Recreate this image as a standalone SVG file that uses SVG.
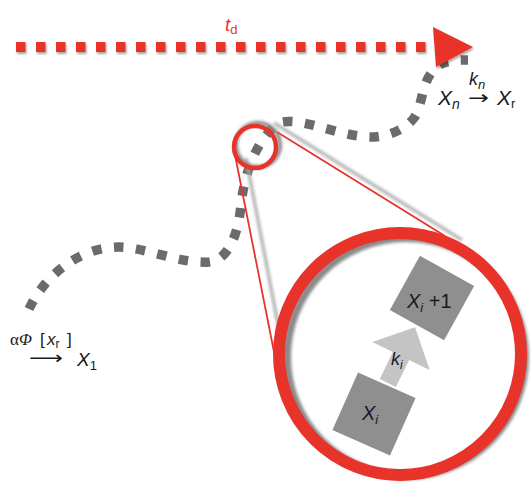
<svg xmlns="http://www.w3.org/2000/svg" width="531" height="483" viewBox="0 0 531 483">
<defs>
<filter id="sh" x="-10%" y="-50%" width="120%" height="200%">
<feDropShadow dx="1" dy="2" stdDeviation="1.3" flood-color="#000" flood-opacity="0.35"/>
</filter>
<filter id="blur" x="-20%" y="-20%" width="140%" height="140%">
<feGaussianBlur stdDeviation="1.8"/>
</filter>
</defs>
<style>
.lbl{font-family:"Liberation Sans",Arial,sans-serif;fill:#1a1a1a}
.it{font-style:italic}
.box{fill:#8f8f8f}
</style>
<rect width="531" height="483" fill="#fff"/>

<g id="connectors">
<path id="trajectory" d="M29,309 C45,275 80,247 119,247 C145,247 180,264 209,262 C230,260 239,230 241,204 C244,180 252,145 278,123 C300,116 335,135 368,137 C385,138 405,130 414,118 C424,104 420,80 438,66 C446,60 458,60 468,60" fill="none" stroke="#6b6b6b" stroke-width="9.5" stroke-dasharray="9.5 12.5"/>
<g id="time-axis" filter="url(#sh)">
<line x1="16" y1="47" x2="436" y2="47" stroke="#e8332a" stroke-width="10" stroke-dasharray="9.5 10.5"/>
<polygon points="433,27 473,47 436,67" fill="#e8332a"/>
</g>
<line x1="246" y1="158" x2="282" y2="345" stroke="#aaa" stroke-width="3" filter="url(#blur)"/>
<line x1="274" y1="123" x2="462" y2="240" stroke="#aaa" stroke-width="3" filter="url(#blur)"/>
<line x1="235" y1="155" x2="276" y2="362" stroke="#e8332a" stroke-width="1.8"/>
<line x1="277" y1="132" x2="445" y2="236" stroke="#e8332a" stroke-width="1.8"/>
</g>

<g id="small-ring">
<circle cx="258" cy="145" r="22" fill="none" stroke="#888" stroke-width="4" filter="url(#blur)"/>
<circle cx="255" cy="147" r="21" fill="none" stroke="#e8332a" stroke-width="4.5"/>
</g>

<g id="big-ring">
<circle cx="406" cy="357" r="119" fill="none" stroke="#8a8a8a" stroke-width="8" filter="url(#blur)"/>
<circle cx="400" cy="354" r="121" fill="none" stroke="#e8332a" stroke-width="12"/>
</g>

<g id="arrow-ki">
<polygon transform="translate(401,356) rotate(26)" points="-9,30 -9,0 -32,0 0,-32 32,0 9,0 9,30" fill="#c4c4c4"/>
<text class="lbl it" x="391" y="365" font-size="18">k<tspan font-size="12" dy="4">i</tspan></text>
</g>

<g id="node-xi">
<rect class="box" x="-31.5" y="-31.5" width="63" height="63" transform="translate(374,414) rotate(24)"/>
<text class="lbl it" x="362" y="420" font-size="20">X<tspan font-size="13" dy="4">i</tspan></text>
</g>

<g id="node-xi1">
<rect class="box" x="-31" y="-31" width="62" height="62" transform="translate(432,298) rotate(29)"/>
<text class="lbl" x="407" y="308" font-size="20"><tspan class="it">X</tspan><tspan class="it" font-size="13" dy="4">i</tspan><tspan dy="-4"> +1</tspan></text>
</g>

<g id="label-td">
<text x="225" y="31" font-size="19" font-family="Liberation Sans,Arial,sans-serif" fill="#e8332a"><tspan font-style="italic">t</tspan><tspan font-size="13" dy="3">d</tspan></text>
</g>

<g id="label-xn">
<text class="lbl it" x="469" y="85" font-size="18">k<tspan font-size="13" dy="4">n</tspan></text>
<text class="lbl" x="438" y="105" font-size="21"><tspan class="it">X</tspan><tspan class="it" font-size="14" dy="4">n</tspan></text>
<text x="468" y="104" font-size="19" fill="#1a1a1a" font-family="DejaVu Sans,sans-serif" textLength="21" lengthAdjust="spacingAndGlyphs">→</text>
<text class="lbl" x="497" y="105" font-size="21"><tspan class="it">X</tspan><tspan font-size="13" dy="3">r</tspan></text>
</g>

<g id="label-x1">
<text x="10" y="345" font-size="17" fill="#1a1a1a" font-family="Liberation Serif,Times New Roman,serif">α<tspan font-style="italic">Φ</tspan></text>
<text x="40" y="345" font-size="17" fill="#1a1a1a" font-family="Liberation Sans,Arial,sans-serif">[<tspan font-style="italic" x="47">x</tspan><tspan font-size="12" dy="3">r</tspan><tspan dy="-3" x="67">]</tspan></text>
<text x="29" y="364" font-size="18" fill="#1a1a1a" font-family="DejaVu Sans,sans-serif" textLength="34" lengthAdjust="spacingAndGlyphs">⟶</text>
<text class="lbl it" x="77" y="366" font-size="19">X<tspan font-style="normal" font-size="13" dy="4">1</tspan></text>
</g>
</svg>
